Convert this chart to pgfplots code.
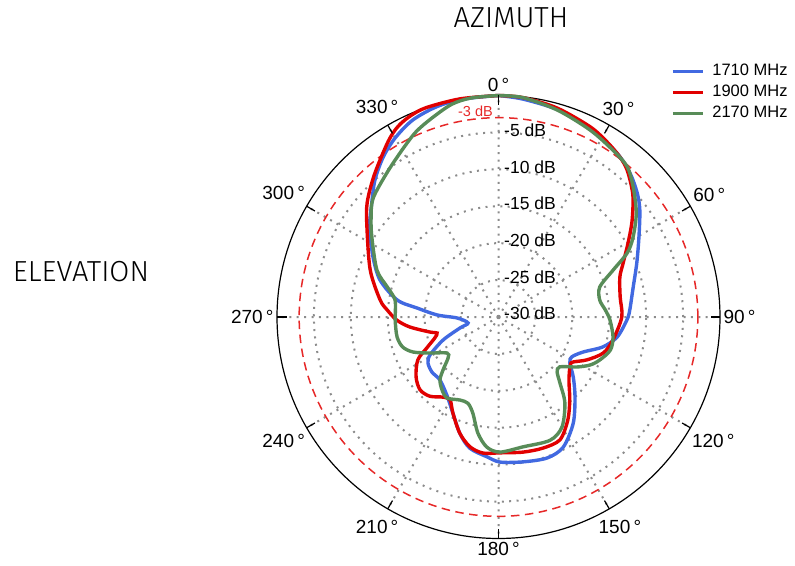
\documentclass[border=0pt]{standalone}
\usepackage{pgfplots}
\pgfplotsset{compat=1.18}
\usepgfplotslibrary{polar}
\usepackage{fontspec}
\setmainfont{Liberation Sans}
\newfontfamily\thinfont{Fira Sans Light}

\definecolor{c1710}{RGB}{65,105,225}
\definecolor{c1900}{RGB}{225,0,0}
\definecolor{c2170}{RGB}{88,140,88}
\definecolor{gridgray}{RGB}{140,140,140}
\definecolor{refred}{RGB}{230,40,40}

\begin{document}
\begin{tikzpicture}
\useasboundingbox (0,0) rectangle (795pt,565pt);
\begin{polaraxis}[
  at={(498.5pt,248pt)}, anchor=center,
  scale only axis, width=443pt, height=443pt,
  xmin=0, xmax=360, ymin=0, ymax=30,
  clip=false,
  % angles are given clockwise from the top, levels in dB
  x filter/.expression={90-x},
  y filter/.expression={y+30},
  xtick={0,30,...,330},
  xticklabels={90\,°,60\,°,30\,°,0\,°,330\,°,300\,°,270\,°,240\,°,210\,°,180\,°,150\,°,120\,°},
  xticklabel style={font=\fontsize{19}{22}\selectfont},
  ytick={5,10,15,20,25},
  yticklabels={},
  major tick length=0pt,
  extra y ticks={27},
  extra y tick labels={},
  extra y tick style={major grid style={refred, line width=1.5pt, dash pattern=on 8.5pt off 5.5pt, line cap=butt}},
  grid=major,
  major grid style={gridgray, line width=2pt, dash pattern=on 2pt off 5.4pt, line cap=butt},
  axis line style={black, line width=1.2pt},
  y axis line style={draw=none},
  legend style={at={(0.883,1.081)}, anchor=north west, draw=none, fill=none,
    font=\fontsize{16.5}{19}\selectfont, row sep=1.5pt,
    /tikz/every odd column/.append style={column sep=6pt},
    cells={anchor=west}, nodes={inner sep=2pt, text height=11.5pt, text depth=4pt}},
  legend image code/.code={\draw[#1, line width=3pt] (0pt,0pt) -- (30pt,0pt);},
]
\addplot[c1710, line width=3.4pt, smooth] table[x=ang, y=db] {
ang db
0 0
6.4 -0.3
16 -0.8
25.8 -1.55
35.8 -2.6
42.4 -3.6
48.2 -4.8
52.9 -6.0
60.3 -8.1
68.7 -9.9
77.4 -11.3
87.0 -12.2
91.3 -12.6
99.6 -13.7
106.0 -15.3
112.5 -17.6
118.6 -18.7
122.8 -18.5
128.8 -17.0
136.3 -15.0
144.9 -12.4
153.6 -10.3
161.0 -9.8
170.4 -10.1
179.4 -10.35
184.7 -11.0
192.3 -11.8
198.4 -13.4
206.6 -15.9
213.4 -17.3
222.9 -18.35
230.4 -18.3
236.9 -18.6
241.0 -19.4
247.5 -21.9
254.1 -24.6
258.9 -25.8
268.6 -24.4
271.9 -21.7
276.3 -18.9
279.5 -16.1
287.3 -13.2
295.6 -11.15
305.0 -8.7
312.0 -6.9
318.0 -5.0
324.2 -3.3
330.0 -2.0
336.5 -0.9
343.8 -0.3
351 -0.1
360 0
};
\addplot[c1900, line width=3.4pt, smooth] table[x=ang, y=db] {
ang db
0 0
6.4 -0.1
15.6 -0.6
25.7 -1.4
31.8 -2.1
37.2 -2.8
41.2 -3.55
46.4 -5.0
49.7 -6.1
54.8 -7.9
60.3 -9.8
66.6 -11.6
71.8 -12.7
80.7 -13.3
90.0 -13.3
101.4 -14.2
109.0 -15.0
115.9 -16.7
121.1 -18.2
123.9 -18.3
131.8 -17.2
139.3 -15.2
146.0 -13.2
153.4 -11.4
161.2 -11.25
169.7 -11.4
179.4 -11.6
186.5 -11.45
192.4 -12.0
198.4 -13.4
205.4 -15.6
210.3 -17.0
214.7 -16.8
220.9 -15.8
227.1 -15.5
234.0 -16.2
241.9 -17.6
246.6 -19.4
251.7 -20.9
255.4 -21.4
257.6 -20.5
263.6 -17.9
268.3 -16.2
273.6 -14.9
278.2 -13.8
290.1 -11.5
304.4 -8.4
311.1 -6.4
319.0 -4.4
327.9 -1.9
332.3 -0.8
336.5 -0.25
341 0
350 0
360 0
};
\addplot[c2170, line width=3.4pt, smooth] table[x=ang, y=db] {
ang db
0 0
6.4 -0.1
15.8 -0.85
26.1 -1.8
34.4 -2.6
40.6 -3.2
46.0 -4.65
52.9 -6.6
59.3 -8.8
63.5 -10.5
67.7 -13.2
73.5 -15.7
80.5 -16.1
86.2 -15.5
91.5 -14.9
99.9 -14.25
106.5 -14.2
113.0 -15.1
117.7 -16.0
122.5 -17.4
129.1 -19.3
133.2 -19.1
137.0 -17.8
142.3 -15.3
150.0 -12.8
157.3 -11.9
169.3 -12.1
179.4 -11.7
185.1 -12.3
190.0 -14.0
194.9 -16.5
199.5 -17.6
204.9 -17.6
212.4 -17.0
217.7 -17.5
222.9 -18.35
226.3 -19.6
230.9 -21.2
235.0 -21.5
242.3 -19.5
247.7 -17.5
252.6 -16.4
258.9 -16.0
268.3 -16.0
279.3 -15.8
285.1 -14.4
291.1 -12.35
302.3 -9.7
308.0 -8.1
313.5 -6.6
322.9 -5.2
331.3 -3.6
336.2 -2.5
341.4 -1.6
347.6 -0.5
353.0 -0.1
360 0
};
\legend{1710 MHz, 1900 MHz, 2170 MHz}
\end{polaraxis}
% tick marks on the rim, every 30 degrees
\foreach \a in {0,30,...,330}
  \draw[black, line width=1.2pt] (498.5pt,248pt) ++(\a:221.5pt) -- ++(\a+180:9.5pt);
% level labels on the upward radius
\begin{scope}[font=\fontsize{17.5}{20}\selectfont]
\node[anchor=west, inner sep=0pt] at (504pt,435pt) {-5 dB};
\node[anchor=west, inner sep=0pt] at (504pt,398pt) {-10 dB};
\node[anchor=west, inner sep=0pt] at (504pt,362pt) {-15 dB};
\node[anchor=west, inner sep=0pt] at (504pt,325pt) {-20 dB};
\node[anchor=west, inner sep=0pt] at (504pt,288pt) {-25 dB};
\node[anchor=west, inner sep=0pt] at (504pt,252pt) {-30 dB};
\end{scope}
\node[anchor=east, inner sep=0pt, text=refred, font=\fontsize{14.5}{17}\selectfont] at (493pt,454pt) {-3 dB};
\node[font=\thinfont\fontsize{29}{31}\selectfont] at (511pt,547pt) {AZIMUTH};
\node[font=\thinfont\fontsize{29}{31}\selectfont] at (81pt,293pt) {ELEVATION};
\end{tikzpicture}
\end{document}
